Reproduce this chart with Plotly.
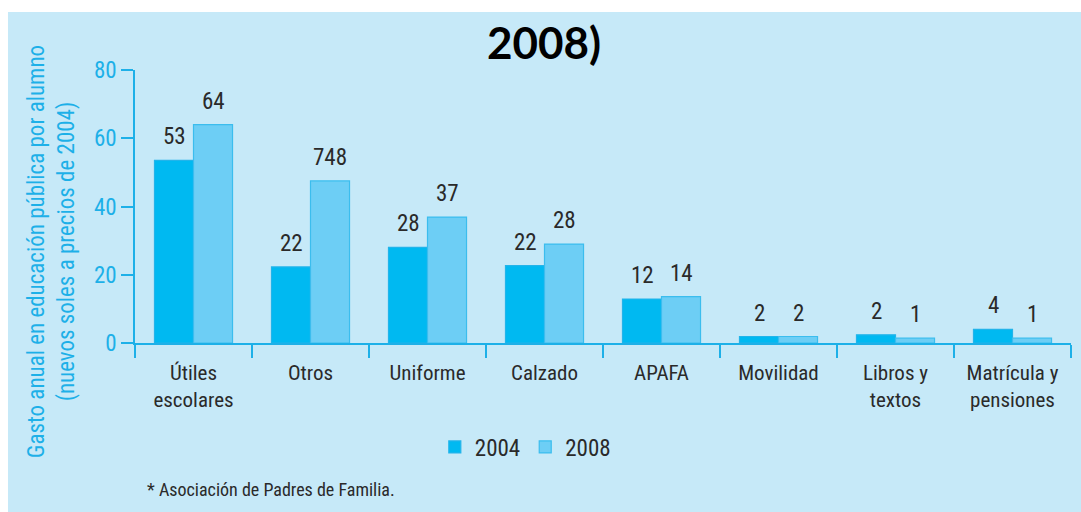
import plotly.graph_objects as go

# ---------------------------------------------------------------------------
# Data
# ---------------------------------------------------------------------------

categories = [
    "Útiles<br>escolares", "Otros", "Uniforme", "Calzado", "APAFA",
    "Movilidad", "Libros y<br>textos", "Matrícula y<br>pensiones",
]
gasto_2004 = [53.5, 22.3, 28.0, 22.7, 12.9, 1.9, 2.4, 4.0]
gasto_2008 = [64.0, 47.5, 36.9, 29.0, 13.6, 1.9, 1.4, 1.4]
labels_2004 = ["53", "22", "28", "22", "12", "2", "2", "4"]
labels_2008 = ["64", "748", "37", "28", "14", "2", "1", "1"]
y_ticks = [0, 20, 40, 60, 80]

# ---------------------------------------------------------------------------
# Style
# ---------------------------------------------------------------------------

NARROW = "Liberation Sans Narrow, Arial Narrow, Roboto Condensed, Liberation Sans, sans-serif"
TITLE_FONT = "Lato, Carlito, Calibri, sans-serif"
BG = "#C6E9F8"
AXIS = "#1DB0E8"
C2004 = "#00B9F1"
C2008 = "#6DCEF5"
TEXT = "#2A2A2A"

fig = go.Figure()

fig.add_trace(go.Bar(
    x=categories, y=gasto_2004, name="2004",
    marker=dict(color=C2004, line=dict(color="#22B4EA", width=1.2)),
))
fig.add_trace(go.Bar(
    x=categories, y=gasto_2008, name="2008",
    marker=dict(color=C2008, line=dict(color="#3BBDEE", width=1.2)),
))

# value labels above each bar
for cat, v, t in zip(categories, gasto_2004, labels_2004):
    fig.add_annotation(x=cat, y=v, text=t, showarrow=False, xshift=-19.5, yshift=8,
                       yanchor="bottom", font=dict(family=NARROW, size=23, color=TEXT))
for cat, v, t in zip(categories, gasto_2008, labels_2008):
    fig.add_annotation(x=cat, y=v, text=t, showarrow=False, xshift=19.5, yshift=8,
                       yanchor="bottom", font=dict(family=NARROW, size=23, color=TEXT))

# y axis title (two lines, rotated)
fig.add_annotation(
    xref="paper", yref="paper", x=-0.0897, y=0.333, xanchor="center", yanchor="middle",
    text="Gasto anual en educación pública por alumno<br>(nuevos soles a precios de 2004)",
    textangle=-90, showarrow=False, font=dict(family=NARROW, size=23, color=AXIS),
)

# footnote
fig.add_annotation(
    xref="paper", yref="paper", x=0.0107, y=-0.538, xanchor="left", yanchor="middle",
    text="* Asociación de Padres de Familia.", showarrow=False,
    font=dict(family=NARROW, size=18, color=TEXT),
)

# title (first line falls mostly outside the picture, as in the source)
fig.add_annotation(
    xref="paper", yref="paper", x=0.437, y=1.256, xanchor="center", yanchor="bottom",
    text="Gasto por alumno en educación pública (soles) (2004 –", showarrow=False,
    font=dict(family=TITLE_FONT, size=44, color="black", weight="bold"),
)
fig.add_annotation(
    xref="paper", yref="paper", x=0.437, y=1.0, xanchor="center", yanchor="bottom",
    text="2008)", showarrow=False,
    font=dict(family=TITLE_FONT, size=44, color="black", weight="bold"),
)

# light blue panel behind everything, white strip at top and left
fig.add_shape(
    type="rect", xref="paper", yref="paper", layer="below",
    x0=-0.1357, x1=1.05, y0=-0.7, y1=1.2125,
    fillcolor=BG, line=dict(width=0),
)

fig.update_layout(
    width=1081,
    height=512,
    barmode="group",
    bargap=0.333,
    bargroupgap=0,
    paper_bgcolor="white",
    plot_bgcolor="rgba(0,0,0,0)",
    margin=dict(l=135, r=10, t=70, b=169),
    showlegend=True,
    legend=dict(
        orientation="h", x=0.417, y=-0.381, xanchor="center", yanchor="middle",
        font=dict(family=NARROW, size=23, color=TEXT), bgcolor="rgba(0,0,0,0)",
        itemwidth=30, traceorder="normal",
    ),
    xaxis=dict(
        type="category",
        tickson="boundaries",
        ticks="outside", ticklen=13, tickwidth=1.5, tickcolor=AXIS,
        ticklabelstandoff=10,
        showline=True, linecolor=AXIS, linewidth=1.5,
        showgrid=False,
        tickfont=dict(family=NARROW, size=21, color=TEXT),
    ),
    yaxis=dict(
        range=[0, 80], tickvals=y_ticks,
        ticks="outside", ticklen=12, tickwidth=1.5, tickcolor=AXIS,
        showline=True, linecolor=AXIS, linewidth=1.5,
        showgrid=False, zeroline=False,
        tickfont=dict(family=NARROW, size=23, color=AXIS),
    ),
)

fig.write_html(
    "out.html",
    config={"displayModeBar": False},
    post_script="document.body.style.margin = '0';",
)
